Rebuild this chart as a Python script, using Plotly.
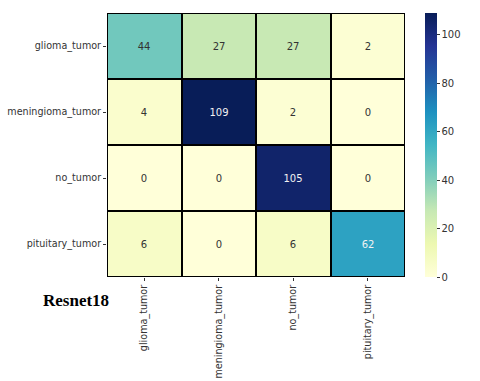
import plotly.graph_objects as go

labels = ["glioma_tumor", "meningioma_tumor", "no_tumor", "pituitary_tumor"]
cm = [
    [44, 27, 27, 2],
    [4, 109, 2, 0],
    [0, 0, 105, 0],
    [6, 0, 6, 62],
]
model_name = "Resnet18"

# colorbrewer YlGnBu, same as matplotlib's
ylgnbu = ["#ffffd9", "#edf8b1", "#c7e9b4", "#7fcdbb", "#41b6c4",
          "#1d91c0", "#225ea8", "#253494", "#081d58"]
cscale = [[i / 8, c] for i, c in enumerate(ylgnbu)]

# light text on dark cells, like seaborn annot
cell_text = [["<span style='color:%s'>%d</span>" % ("#f2f2f2" if v > 55 else "#333333", v)
              for v in row] for row in cm]

fig = go.Figure()
fig.add_trace(go.Heatmap(
    z=cm, x=labels, y=labels, colorscale=cscale, zmin=0, zmax=109,
    xgap=2, ygap=2,
    text=cell_text, texttemplate="%{text}",
    textfont=dict(size=10, family="DejaVu Sans"),
    colorbar=dict(thickness=12, len=1, ypad=0, xpad=0, x=1.067, xanchor="left", y=0.5,
                  outlinewidth=0, tickvals=[0, 20, 40, 60, 80, 100],
                  ticks="outside", ticklen=3, tickcolor="#333",
                  tickfont=dict(size=10, family="DejaVu Sans", color="#333")),
))

fig.add_annotation(text="<b>" + model_name + "</b>", x=-0.103, y=-0.09,
                   xref="paper", yref="paper", xanchor="center", yanchor="middle",
                   showarrow=False,
                   font=dict(family="Liberation Serif", size=17, color="black"))

fig.update_layout(
    width=480, height=381,
    margin=dict(l=107, r=75, t=13, b=104),
    plot_bgcolor="black", paper_bgcolor="white",
    font=dict(family="DejaVu Sans", size=9.6, color="#333"),
)
fig.update_xaxes(tickangle=-90, ticks="outside", ticklen=3, tickcolor="#333",
                 showline=False, showgrid=False, zeroline=False, automargin=False,
                 tickfont=dict(size=9.6))
fig.update_yaxes(autorange="reversed", ticks="outside", ticklen=3, tickcolor="#333",
                 showline=False, showgrid=False, zeroline=False, automargin=False,
                 tickfont=dict(size=9.6))

# drop the browser's default 8px body margin so the figure sits at 0,0
fig.write_html("out.html", config={"displayModeBar": False},
               post_script="document.body.style.margin='0px';")
